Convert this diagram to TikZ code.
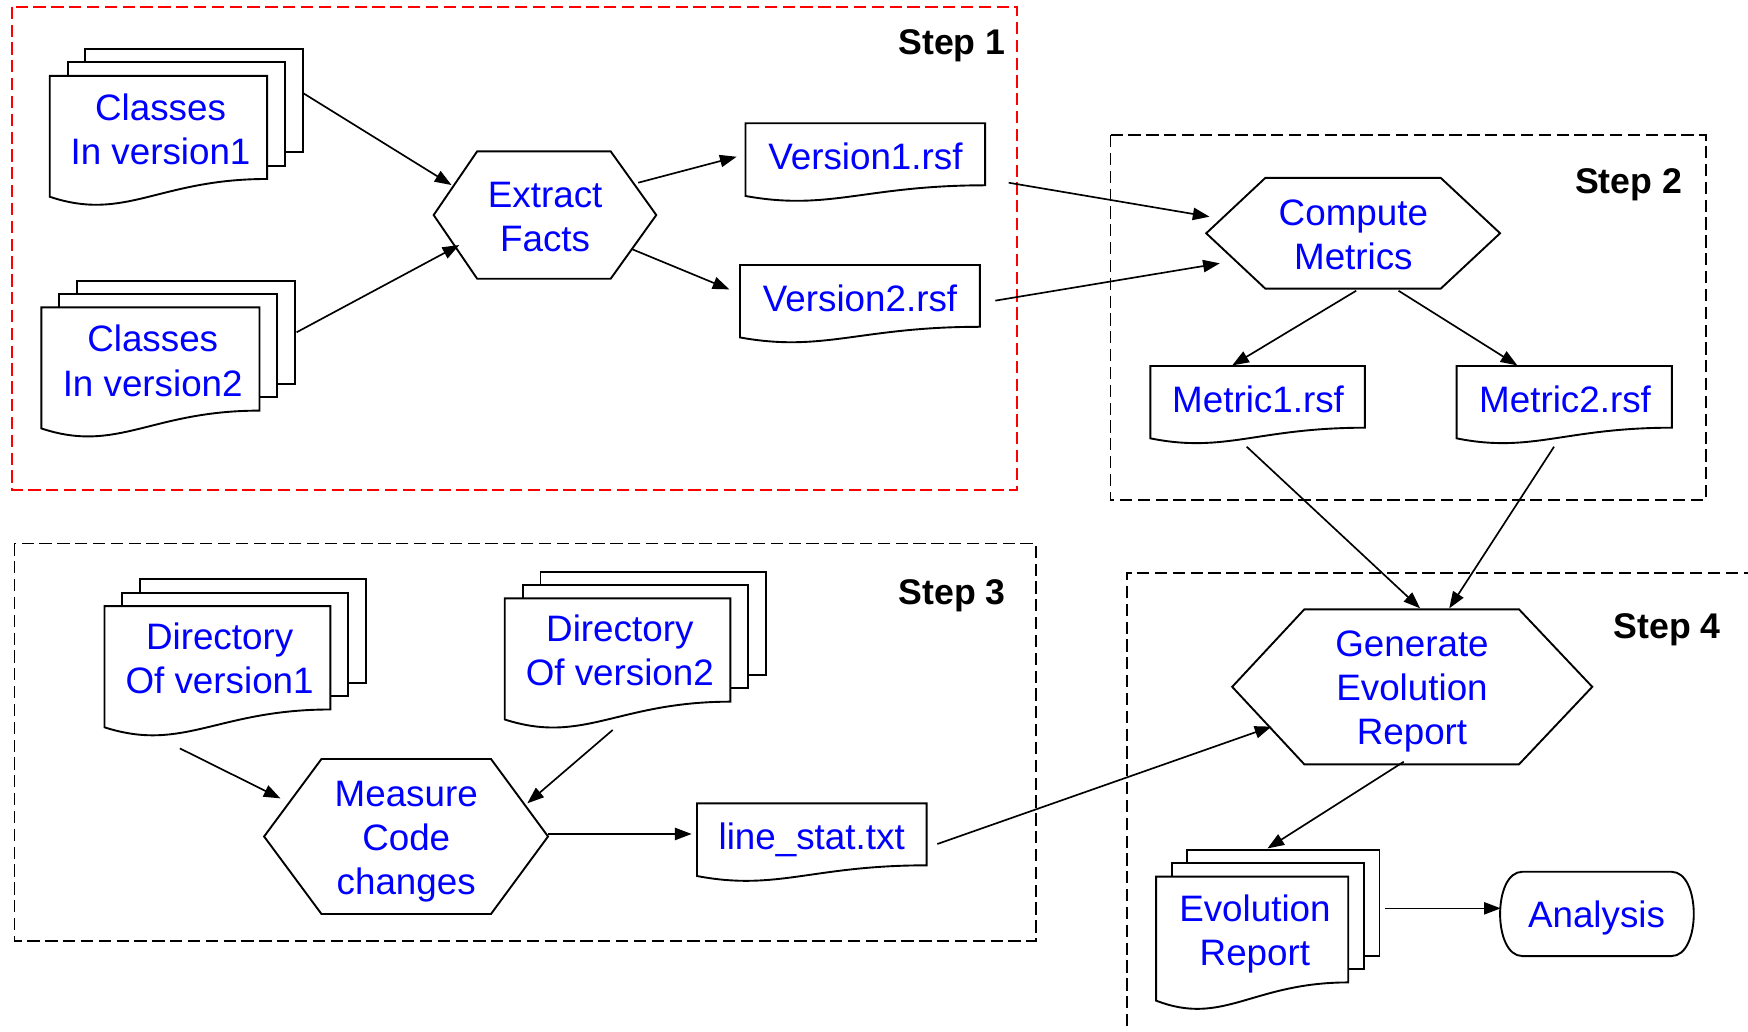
\documentclass[tikz,border=0pt]{standalone}
\usepackage{fontspec}
\setmainfont{Liberation Sans}
\usetikzlibrary{arrows.meta}
\definecolor{lblue}{RGB}{0,0,255}
\definecolor{lred}{RGB}{255,0,0}
\tikzset{
  shp/.style={draw=black, line width=1.7pt, fill=white, line join=miter},
  conn/.style={draw=black, line width=1.5pt, -{Triangle[length=15pt,width=11pt]}},
  stepbox/.style={draw=black, line width=1.5pt, dash pattern=on 11pt off 5pt},
  redbox/.style={draw=lred, line width=1.5pt, dash pattern=on 11pt off 5pt},
  lbl/.style={font=\fontsize{33}{39.5}\selectfont, text=lblue, align=center, inner sep=0pt,
    execute at begin node={\strut}, execute at end node={\strut}},
  steplbl/.style={font=\fontsize{32}{38}\selectfont\bfseries, text=black, inner sep=0pt, anchor=base east}
}
\newcommand\docshape[4]{%
  \draw[shp] (#1,#2) -- (#1+#3,#2) -- (#1+#3,#2+0.853*#4)
    .. controls (#1+0.5*#3,#2+0.853*#4) and (#1+0.35*#3,#2+1.21*#4) .. (#1,#2+#4) -- cycle;}
\newcommand\multidoc[6]{%
  \draw[shp] (#1+2*#5,#2-2*#6) rectangle (#1+#3+2*#5,#2+0.853*#4-2*#6);
  \draw[shp] (#1+#5,#2-#6) rectangle (#1+#3+#5,#2+0.853*#4-#6);
  \docshape{#1}{#2}{#3}{#4}}
\newcommand\hexa[6]{%
  \draw[shp] (#1,{(#5+#6)/2}) -- (#2,#5) -- (#3,#5) -- (#4,{(#5+#6)/2}) -- (#3,#6) -- (#2,#6) -- cycle;}
\begin{document}
\begin{tikzpicture}[x=1pt,y=-1pt]
\useasboundingbox (0,0) rectangle (1568,925);
\clip (0,0) rectangle (1568,925);
% step frames
\draw[redbox] (11,6) rectangle (912.4,439.6);
\draw[stepbox] (996,121.1) rectangle (1530.2,448.5);
\draw[stepbox] (13,487.4) rectangle (929.3,843.8);
\draw[stepbox] (1575,513.7) -- (1010.8,513.7) -- (1010.8,930);
\node[steplbl] (s1) at (902.1,49.3) {Step 1};
\node[steplbl] (s2) at (1509.2,173.4) {Step 2};
\node[steplbl] (s3) at (902.4,541.8) {Step 3};
\node[steplbl] (s4) at (1543.8,572.6) {Step 4};
% shapes
\multidoc{44.6}{68}{195}{108.5}{16}{12}
\multidoc{37.1}{275.7}{195.7}{108.6}{16}{12}
\hexa{389}{428}{547.8}{588.7}{135.8}{250}
\docshape{668.7}{110.6}{215}{65.2}
\docshape{663.8}{237.7}{215.2}{65}
\hexa{1082}{1135}{1292.4}{1345.6}{159.6}{258.9}
\docshape{1031.9}{328.3}{192.4}{64.9}
\docshape{1306.6}{328.3}{193.1}{64.9}
\multidoc{93.7}{543.7}{202.6}{108.7}{16}{12}
\multidoc{452.8}{536.7}{202.3}{108.7}{16}{12}
\hexa{236.9}{288.4}{440.4}{491.6}{680.8}{819.9}
\docshape{625.2}{720.6}{206}{65.2}
\hexa{1105.3}{1170}{1362.6}{1428.3}{546.6}{685.6}
\multidoc{1037.1}{786.4}{172.3}{111.2}{14}{12}
\draw[shp] (1365.5,782) -- (1499.4,782) .. controls (1526,782) and (1526,857.6) .. (1499.4,857.6)
  -- (1365.5,857.6) .. controls (1339,857.6) and (1339,782) .. (1365.5,782) -- cycle;
% labels
\node[lbl] (c1) at (144,121.65) {Classes\\In version1};
\node[lbl] (c2) at (137,329.45) {Classes\\In version2};
\node[lbl] (ext) at (489,200.15) {Extract\\Facts};
\node[lbl] (v1) at (776.3,144) {Version1.rsf};
\node[lbl] (v2) at (771.5,271.1) {Version2.rsf};
\node[lbl] (cm) at (1214,216.15) {Compute\\Metrics};
\node[lbl] (m1) at (1128.5,362) {Metric1.rsf};
\node[lbl] (m2) at (1403.9,362) {Metric2.rsf};
\node[lbl] (d1) at (197,596.35) {Directory\\Of version1};
\node[lbl] (d2) at (556,589.45) {Directory\\Of version2};
\node[lbl] (mc) at (364.4,757.2) {Measure\\Code\\changes};
\node[lbl] (ls) at (728.1,753.9) {line\_stat.txt};
\node[lbl] (ge) at (1266.6,622.8) {Generate\\Evolution\\Report};
\node[lbl] (er) at (1125.7,840.15) {Evolution\\Report};
\node[lbl] (an) at (1432.1,824.3) {Analysis};
% connector end points
\coordinate (c1o) at (271.2,83.1);   \coordinate (exti1) at (405,166);
\coordinate (c2o) at (266,298.1);    \coordinate (exti2) at (412,219.8);
\coordinate (exto1) at (572.5,163.9); \coordinate (v1i) at (660.8,140.6);
\coordinate (exto2) at (567.4,223.7); \coordinate (v2i) at (654.3,259.6);
\coordinate (v1o) at (904.8,163.9);  \coordinate (cmi1) at (1085,194.4);
\coordinate (v2o) at (892.8,269.7);  \coordinate (cmi2) at (1094.2,236.2);
\coordinate (cmo1) at (1216.5,260.8); \coordinate (m1i) at (1105.3,327.8);
\coordinate (cmo2) at (1254.5,260.8); \coordinate (m2i) at (1361.1,327.8);
\coordinate (m1o) at (1118.3,400.7); \coordinate (gei1) at (1273.9,545.7);
\coordinate (m2o) at (1394,400.7);   \coordinate (gei2) at (1300,545.7);
\coordinate (d1o) at (161.3,671.3);  \coordinate (mci1) at (251.6,716.2);
\coordinate (d2o) at (549.6,654.8);  \coordinate (mci2) at (473,720.6);
\coordinate (mco) at (491.6,748.1);  \coordinate (lsi) at (620.4,748.1);
\coordinate (lso) at (840.8,757.1);  \coordinate (gei3) at (1140.5,651.8);
\coordinate (geo) at (1259.2,683.3); \coordinate (eri) at (1136.9,761.1);
\coordinate (ero) at (1242.4,814.8); \coordinate (ani) at (1346.2,814.8);
% connectors
\draw[conn] (c1o) -- (exti1);
\draw[conn] (c2o) -- (exti2);
\draw[conn] (exto1) -- (v1i);
\draw[conn] (exto2) -- (v2i);
\draw[conn] (v1o) -- (cmi1);
\draw[conn] (v2o) -- (cmi2);
\draw[conn] (cmo1) -- (m1i);
\draw[conn] (cmo2) -- (m2i);
\draw[conn] (m1o) -- (gei1);
\draw[conn] (m2o) -- (gei2);
\draw[conn] (d1o) -- (mci1);
\draw[conn] (d2o) -- (mci2);
\draw[conn] (mco) -- (lsi);
\draw[conn] (lso) -- (gei3);
\draw[conn] (geo) -- (eri);
\draw[conn] (ero) -- (ani);
\end{tikzpicture}
\end{document}
